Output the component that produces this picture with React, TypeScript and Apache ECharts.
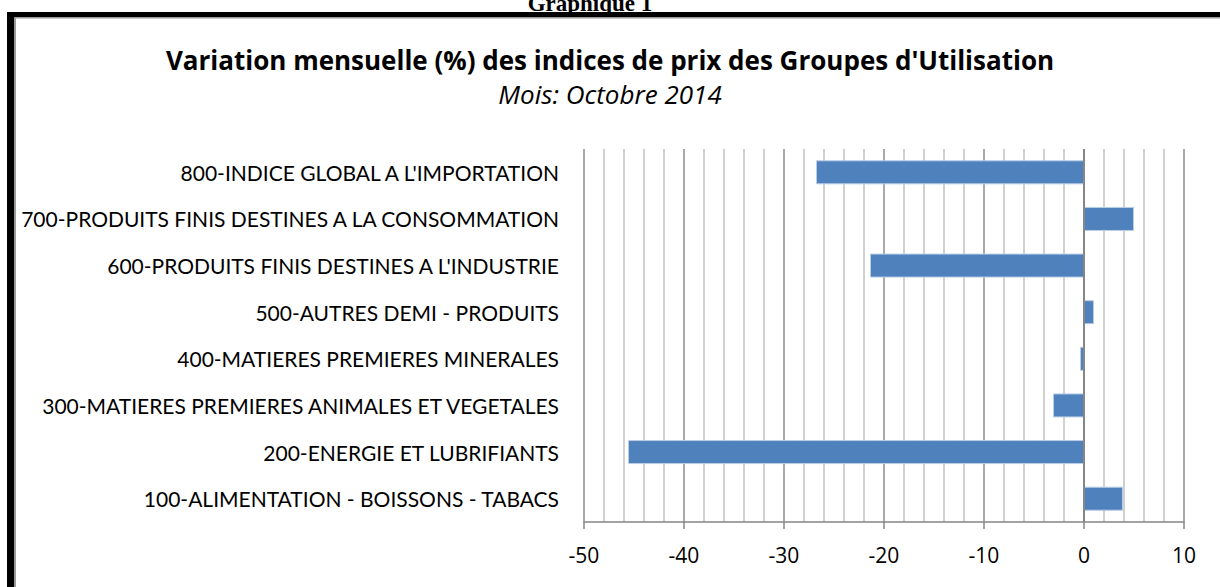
import React, { useEffect, useRef } from "react";
import * as echarts from "echarts";

const categories = [
  "100-ALIMENTATION - BOISSONS - TABACS",
  "200-ENERGIE ET LUBRIFIANTS",
  "300-MATIERES PREMIERES ANIMALES ET VEGETALES",
  "400-MATIERES PREMIERES MINERALES",
  "500-AUTRES DEMI - PRODUITS",
  "600-PRODUITS FINIS DESTINES A L'INDUSTRIE",
  "700-PRODUITS FINIS DESTINES A LA CONSOMMATION",
  "800-INDICE GLOBAL A L'IMPORTATION",
];
const values = [3.9, -45.6, -3.1, -0.4, 1.0, -21.4, 5.0, -26.8];
const xMin = -50;
const xMax = 10;
const xInterval = 10;

const headerText = "Graphique 1";
const titleText = "Variation mensuelle (%) des indices de prix des Groupes d'Utilisation";
const subtitleText = "Mois: Octobre 2014";

const FONT = "'Open Sans', Lato, sans-serif";
const LABEL_FONT = "Lato, 'Open Sans', sans-serif";

export default function App() {
  const ref = useRef<HTMLDivElement>(null);
  useEffect(() => {
    if (!ref.current) return;
    const chart = echarts.init(ref.current, null, { renderer: "svg" });
    chart.setOption({
      animation: false,
      backgroundColor: "#ffffff",
      textStyle: { fontFamily: FONT },
      title: [
        {
          text: titleText,
          left: "center",
          top: 42,
          textStyle: { fontFamily: FONT, fontSize: 26, fontWeight: "bold", color: "#000" },
        },
        {
          text: subtitleText,
          left: "center",
          top: 76,
          textStyle: { fontFamily: FONT, fontSize: 26, fontStyle: "italic", fontWeight: "normal", color: "#000" },
        },
      ],
      graphic: [
        {
          type: "text",
          x: 590,
          y: 15,
          z: 10,
          style: {
            text: headerText,
            font: "bold 23px 'Liberation Serif', serif",
            fill: "#000",
            align: "center",
            verticalAlign: "bottom",
          },
        },
        { type: "rect", z: 20, shape: { x: 7, y: 12, width: 7, height: 575 }, style: { fill: "#000" } },
        { type: "rect", z: 20, shape: { x: 7, y: 12, width: 1213, height: 5 }, style: { fill: "#000" } },
        { type: "rect", z: 20, shape: { x: 14, y: 17, width: 2, height: 570 }, style: { fill: "#9a9a9a" } },
        { type: "rect", z: 20, shape: { x: 14, y: 17, width: 1206, height: 1.5 }, style: { fill: "#9a9a9a" } },
      ],
      grid: { left: 584, right: 36, top: 149, bottom: 65, containLabel: false },
      xAxis: {
        type: "value",
        min: xMin,
        max: xMax,
        interval: xInterval,
        axisLine: { show: true, lineStyle: { color: "#868686", width: 1.5 } },
        axisTick: { show: true, length: 7, lineStyle: { color: "#868686", width: 1.5 } },
        axisLabel: { fontFamily: FONT, fontSize: 21, color: "#000", margin: 22 },
        splitLine: { show: true, lineStyle: { color: "#8c8c8c", width: 1.5 } },
        minorTick: { show: false, splitNumber: 5 },
        minorSplitLine: { show: true, lineStyle: { color: "#c0c0c0", width: 1.5 } },
      },
      yAxis: {
        type: "category",
        data: categories,
        axisLine: { show: false },
        axisTick: { show: false },
        splitLine: { show: false },
        axisLabel: { fontFamily: LABEL_FONT, fontSize: 21, color: "#000", margin: 25 },
      },
      series: [
        {
          type: "bar",
          data: values,
          barWidth: 24,
          itemStyle: { color: "#4F81BD", borderColor: "#B9CDE5", borderWidth: 1 },
          markLine: {
            silent: true,
            symbol: "none",
            label: { show: false },
            lineStyle: { color: "#868686", width: 2, type: "solid" },
            data: [{ xAxis: 0 }],
          },
        },
      ],
    });
    return () => chart.dispose();
  }, []);
  return (
    <div
      ref={ref}
      style={{ position: "fixed", left: 0, top: 0, width: 1220, height: 587 }}
    />
  );
}
